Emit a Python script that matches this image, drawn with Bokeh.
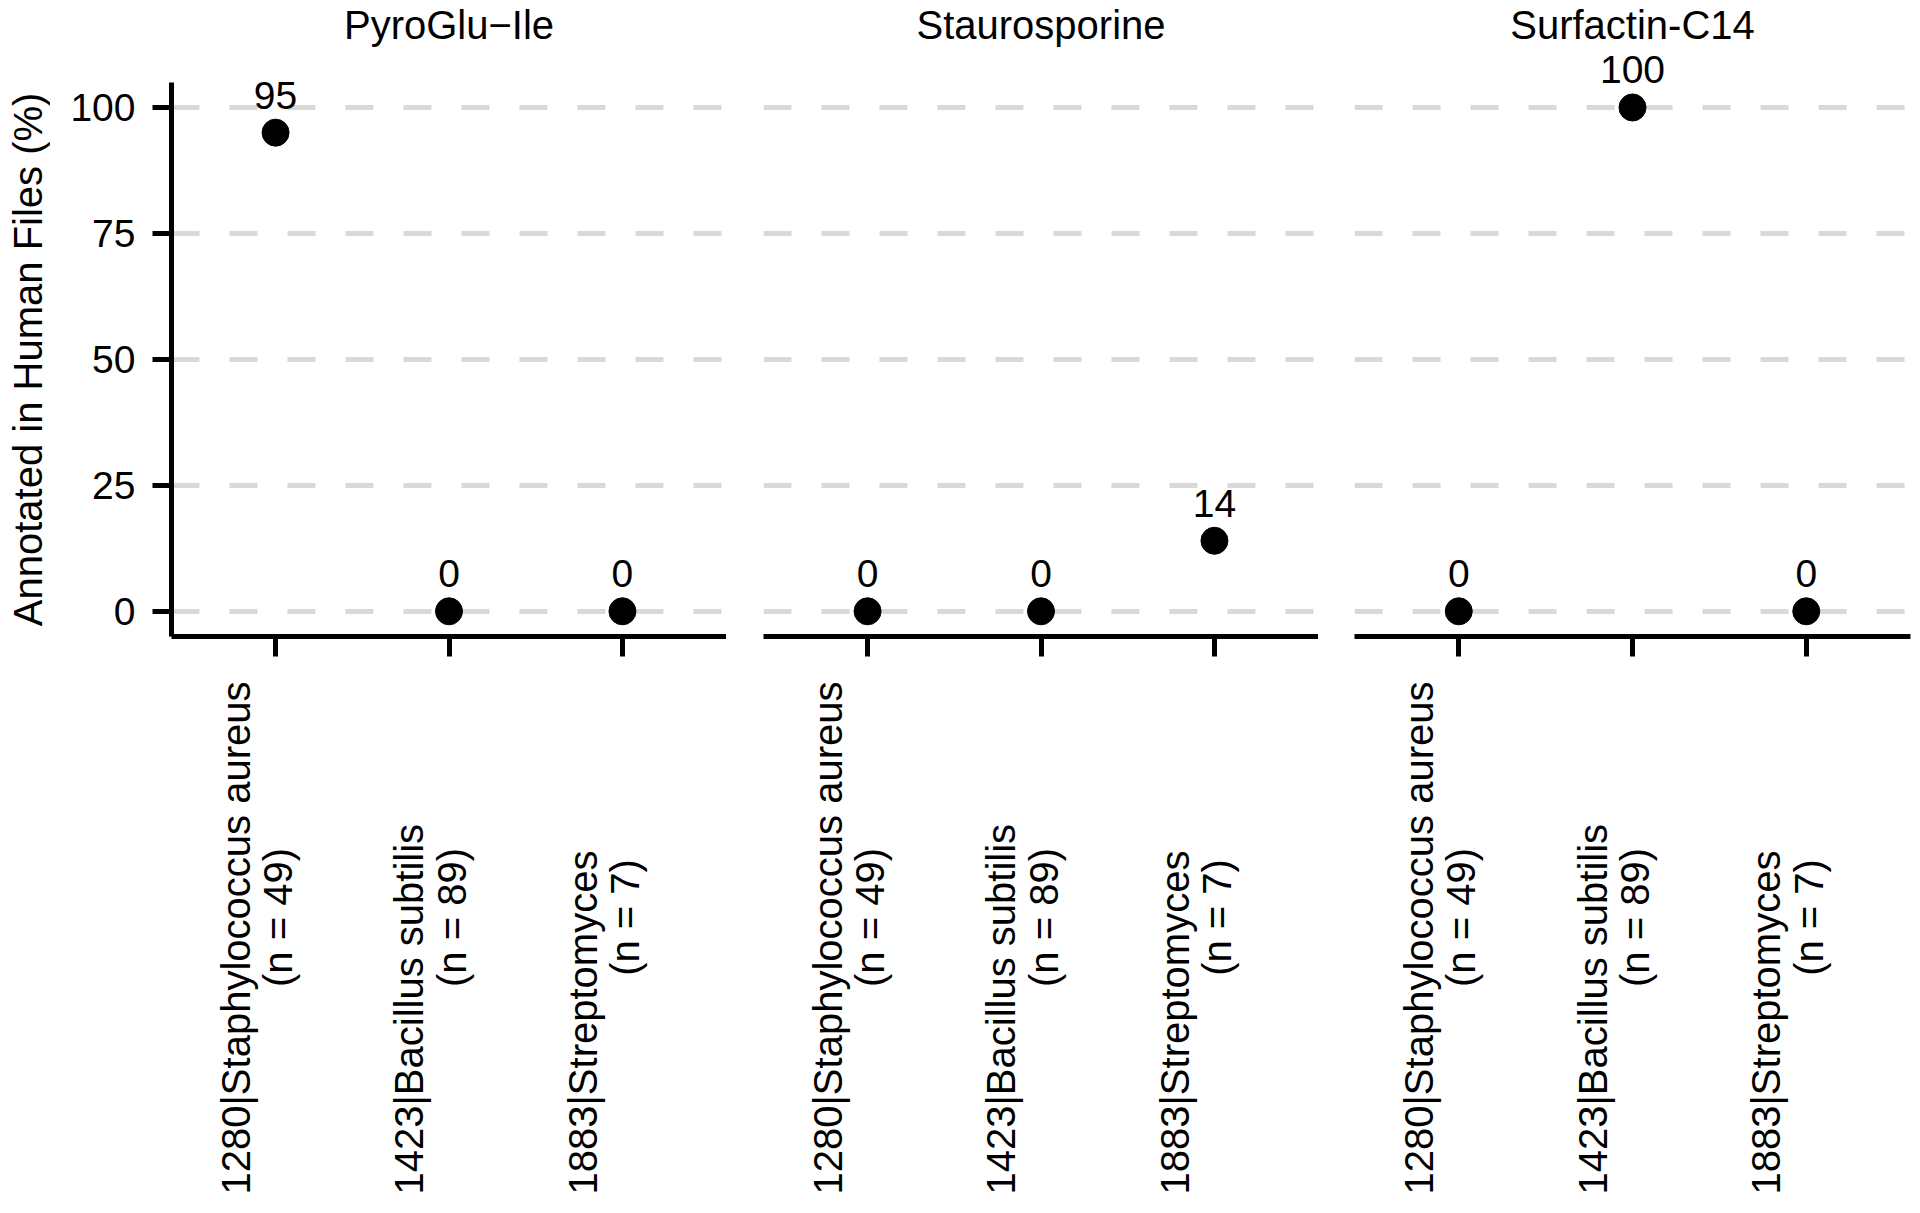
import math
from bokeh.plotting import figure
from bokeh.layouts import column, row
from bokeh.models import (ColumnDataSource, FactorRange, Range1d, FixedTicker, Grid,
                          LabelSet, CustomLabelingPolicy, Spacer)
from bokeh.transform import dodge
from bokeh.core.properties import value
from bokeh.embed import file_html
from bokeh.resources import INLINE

# ---- data ----
compounds = ["PyroGlu\u2212Ile", "Staurosporine", "Surfactin-C14"]
organisms = ["1280|Staphylococcus aureus", "1423|Bacillus subtilis", "1883|Streptomyces"]
n_files = [49, 89, 7]
pyroglu_ile = [95, 0, 0]
staurosporine = [0, 0, 14]
surfactin_c14 = [0, 100, 0]
y_ticks = [0, 25, 50, 75, 100]
y_label = "Annotated in Human Files (%)"

FONT = "Liberation Sans"
series = [pyroglu_ile, staurosporine, surfactin_c14]
LEFT_W = 50
lefts = [121, 37, 36]
rights = [0, 0, 2]
frame_w = [555, 555, 556]
TITLE_H = 47
TOP_H = 624
LAB_H = 537

yr = Range1d(-5, 111.9)

hide_labels = CustomLabelingPolicy(code="""
for (const i of indices) { indices.unset(i) }
""")

# y-axis title column
lf = figure(x_range=Range1d(0, LEFT_W), y_range=yr, width=LEFT_W, height=TOP_H,
            output_backend="svg", toolbar_location=None, title=None,
            x_axis_location=None, y_axis_location=None,
            min_border_left=0, min_border_right=0, min_border_top=0, min_border_bottom=35)
lf.outline_line_color = None
lf.grid.visible = False
lf.text(x=27, y=(y_ticks[0] + y_ticks[-1]) / 2, text=[y_label], angle=math.pi / 2,
        text_align="center", text_baseline="middle", text_font=value(FONT),
        text_font_size="40px", text_color="black")

titles = [Spacer(width=LEFT_W, height=TITLE_H)]
tops = [lf]
bottoms = [Spacer(width=LEFT_W, height=LAB_H)]

for i, (name, vals) in enumerate(zip(compounds, series)):
    xr = FactorRange(*organisms, range_padding=0.2 / 3)
    w = lefts[i] + frame_w[i] + rights[i]

    # facet strip title
    t = figure(x_range=xr, y_range=Range1d(0, TITLE_H), width=w, height=TITLE_H,
               output_backend="svg", toolbar_location=None, title=None,
               x_axis_location=None, y_axis_location=None,
               min_border_left=lefts[i], min_border_right=rights[i],
               min_border_top=0, min_border_bottom=0)
    t.outline_line_color = None
    t.grid.visible = False
    tsrc = ColumnDataSource(dict(org=[organisms[1]], name=[name]))
    t.text(x="org", y=22.5, text="name", source=tsrc, text_align="center",
           text_baseline="middle", text_font=value(FONT), text_font_size="40px",
           text_color="black")
    titles.append(t)

    # panel
    p = figure(x_range=xr, y_range=yr, width=w, height=TOP_H,
               output_backend="svg", toolbar_location=None, title=None,
               y_axis_location="left" if i == 0 else None,
               min_border_left=lefts[i], min_border_right=rights[i],
               min_border_top=0, min_border_bottom=35)
    p.outline_line_color = None
    p.background_fill_color = "white"
    p.border_fill_color = "white"
    p.grid.grid_line_color = None
    p.add_layout(Grid(dimension=1, ticker=FixedTicker(ticks=y_ticks),
                      grid_line_color="#d9d9d9", grid_line_width=5,
                      grid_line_dash="28 30"))

    xa = p.xaxis[0]
    xa.axis_line_width = 5
    xa.axis_line_color = "black"
    xa.major_tick_line_width = 5
    xa.major_tick_line_color = "black"
    xa.major_tick_out = 20
    xa.major_tick_in = 0
    xa.major_label_policy = hide_labels
    xa.major_label_text_font_size = "10px"
    xa.major_label_standoff = 0

    if i == 0:
        ya = p.yaxis[0]
        ya.ticker = FixedTicker(ticks=y_ticks)
        ya.bounds = (-5, 105)
        ya.axis_line_width = 5
        ya.axis_line_color = "black"
        ya.major_tick_line_width = 5
        ya.major_tick_line_color = "black"
        ya.major_tick_out = 19
        ya.major_tick_in = 0
        ya.minor_tick_line_color = None
        ya.major_label_standoff = 17
        ya.major_label_text_font = FONT
        ya.major_label_text_font_size = "39px"
        ya.major_label_text_color = "black"

    src = ColumnDataSource(dict(org=organisms, val=vals, lab=[str(v) for v in vals]))
    p.scatter(x="org", y="val", source=src, size=27, color="black")
    p.add_layout(LabelSet(x="org", y="val", text="lab", source=src,
                          text_align="center", text_baseline="alphabetic",
                          y_offset=24, text_font=value(FONT),
                          text_font_size="39px", text_color="black"))
    tops.append(p)

    # rotated category labels
    g = figure(x_range=xr, y_range=Range1d(0, LAB_H), width=w, height=LAB_H,
               output_backend="svg", toolbar_location=None, title=None,
               x_axis_location=None, y_axis_location=None,
               min_border_left=lefts[i], min_border_right=rights[i],
               min_border_top=0, min_border_bottom=0)
    g.outline_line_color = None
    g.grid.visible = False
    lsrc = ColumnDataSource(dict(org=organisms, line1=organisms,
                                 line2=[f"(n = {n})" for n in n_files]))
    g.text(x=dodge("org", -0.229, range=xr), y=14, text="line1", source=lsrc,
           angle=math.pi / 2, text_align="left", text_baseline="alphabetic",
           text_font=value(FONT), text_font_size="40px", text_color="black")
    g.text(x=dodge("org", 0.015, range=xr), y=291, text="line2", source=lsrc,
           angle=math.pi / 2, text_align="center", text_baseline="alphabetic",
           text_font=value(FONT), text_font_size="40px", text_color="black")
    bottoms.append(g)

layout = column(row(*titles), row(*tops), row(*bottoms))
open("out.html", "w").write(file_html(layout, INLINE))
